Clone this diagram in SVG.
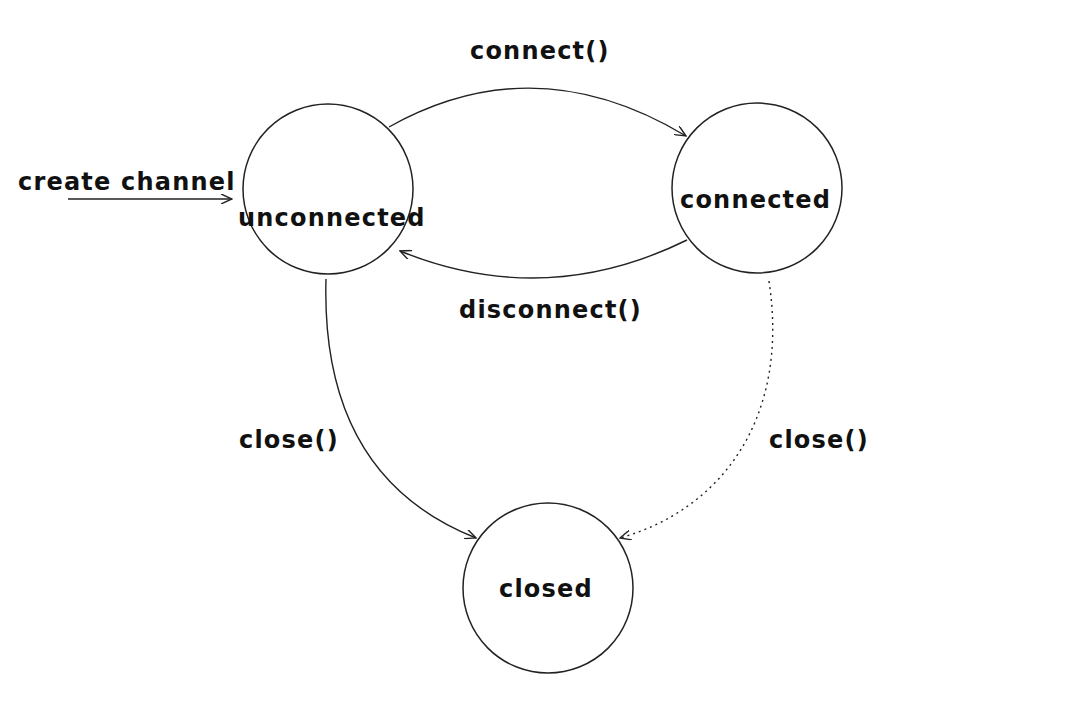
<svg xmlns="http://www.w3.org/2000/svg" width="1080" height="708" viewBox="0 0 1080 708">
<style>
.st{fill:none;stroke:#222;stroke-width:1.5}
.lb{font-family:"DejaVu Sans",sans-serif;font-weight:bold;font-size:24px;letter-spacing:1.2px;fill:#111}
.cn{fill:none;stroke:#222;stroke-width:1.4}
.dot{stroke-dasharray:2 4}
</style>
<defs>
<marker id="ah" viewBox="0 0 12 10" refX="11" refY="5" markerWidth="12" markerHeight="10" markerUnits="userSpaceOnUse" orient="auto">
<path d="M0,0 L11,5 L0,10" fill="none" stroke="#222" stroke-width="1.4"/>
</marker>
</defs>
<rect width="1080" height="708" fill="#fff"/>
<g id="unconnected">
<circle class="st" cx="328" cy="189" r="85"/>
<text class="lb" x="238" y="226">unconnected</text>
</g>
<g id="connected">
<circle class="st" cx="757" cy="188" r="85"/>
<text class="lb" x="680" y="208">connected</text>
</g>
<g id="closed">
<circle class="st" cx="548" cy="588" r="85"/>
<text class="lb" x="499" y="597">closed</text>
</g>
<g id="connectors">
<path class="cn" d="M68,199 L232,199" marker-end="url(#ah)"/>
<path class="cn" d="M389,127 Q535,45 686,136" marker-end="url(#ah)"/>
<path class="cn" d="M687,240 Q545,310 400,251" marker-end="url(#ah)"/>
<path class="cn" d="M326,279 C322,420 380,500 476,538" marker-end="url(#ah)"/>
<path class="cn dot" d="M769,281 C790,420 720,510 620,538" marker-end="url(#ah)"/>
</g>
<g id="labels">
<text class="lb" x="18" y="190">create channel</text>
<text class="lb" x="470" y="59">connect()</text>
<text class="lb" x="459" y="318">disconnect()</text>
<text class="lb" x="239" y="448">close()</text>
<text class="lb" x="769" y="448">close()</text>
</g>
</svg>
